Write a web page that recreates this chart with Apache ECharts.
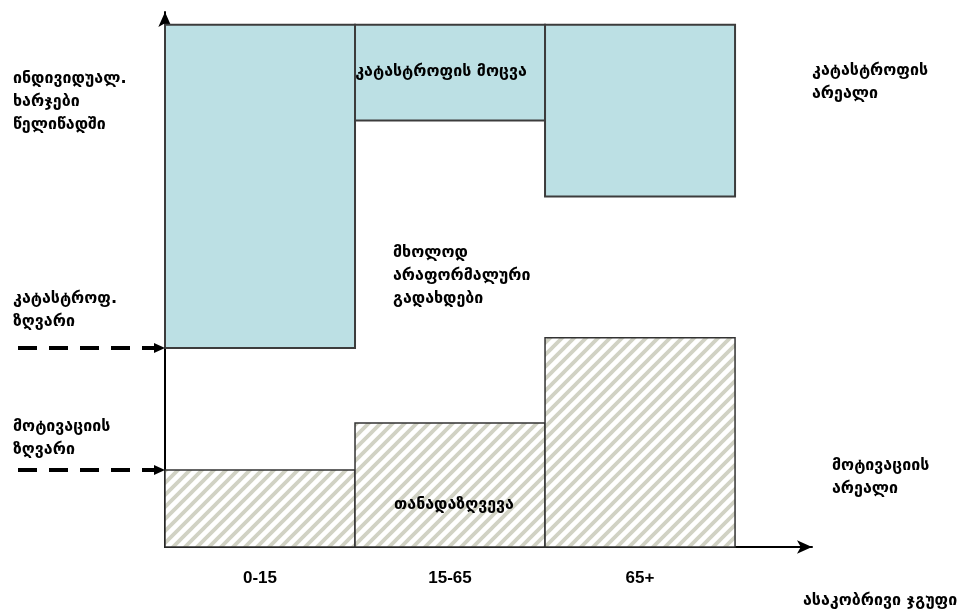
<!DOCTYPE html>
<html><head><meta charset="utf-8">
<script src="https://cdn.jsdelivr.net/npm/echarts@6/dist/echarts.min.js"></script>
<style>html,body{margin:0;padding:0;background:#fff}#c{width:976px;height:609px}</style>
</head><body><div id="c"></div>
<script>
// ---- data ----
const categories = ['0-15', '15-65', '65+'];
const coPaymentTop = [14.4, 23.2, 39.1];          // hatched bars (თანადაზღვევა)
const catastropheBottom = [37.2, 79.7, 65.5];     // teal bars lower edge
const catastropheTop = [97.6, 97.6, 97.6];        // teal bars upper edge
const catastropheThreshold = 37.2;               // კატასტროფ. ზღვარი
const motivationThreshold = 14.4;                // მოტივაციის ზღვარი

// ---- hatch pattern ----
function makeHatch() {
  const s = 12;
  const cv = document.createElement('canvas');
  cv.width = s; cv.height = s;
  const ctx = cv.getContext('2d');
  ctx.fillStyle = '#ffffff';
  ctx.fillRect(0, 0, s, s);
  ctx.strokeStyle = '#d1d2c4';
  ctx.lineWidth = 3.8;
  ctx.beginPath();
  ctx.moveTo(-s, s); ctx.lineTo(s, -s);
  ctx.moveTo(0, s * 2); ctx.lineTo(s * 2, 0);
  ctx.moveTo(0, s); ctx.lineTo(s, 0);
  ctx.stroke();
  return cv;
}
const hatch = { image: makeHatch(), repeat: 'repeat' };

const geoFont = '"DejaVu Sans", "Noto Sans", sans-serif';

function rectItem(fill, stroke, lw) {
  return function (params, api) {
    const i = api.value(0);
    const p0 = api.coord([i, api.value(1)]);
    const p1 = api.coord([i + 1, api.value(2)]);
    return {
      type: 'rect',
      shape: { x: p0[0], y: p1[1], width: p1[0] - p0[0], height: p0[1] - p1[1] },
      style: { fill: fill, stroke: stroke, lineWidth: lw }
    };
  };
}

const chart = echarts.init(document.getElementById('c'), null, { renderer: 'canvas' });
const option = {
  animation: false,
  backgroundColor: '#ffffff',
  grid: { left: 165, right: 164, top: 12, bottom: 62 },
  xAxis: {
    type: 'value', min: 0, max: 3.405, interval: 0.5,
    axisLine: { show: true, symbol: ['none', 'arrow'], symbolSize: [10, 15], lineStyle: { color: '#000', width: 2 } },
    axisTick: { show: false },
    splitLine: { show: false },
    showMaxLabel: false,
    axisLabel: {
      margin: 23,
      color: '#000', fontFamily: '"Liberation Sans", Arial, sans-serif', fontWeight: 'bold', fontSize: 17,
      formatter: function (v) {
        const k = v - 0.5;
        const r = Math.round(k);
        if (Math.abs(k - r) < 1e-6 && categories[r] !== undefined) return categories[r];
        return '';
      }
    }
  },
  yAxis: {
    type: 'value', min: 0, max: 100,
    axisLine: { show: true, symbol: ['none', 'arrow'], symbolSize: [10, 15], lineStyle: { color: '#000', width: 2 } },
    axisTick: { show: false },
    axisLabel: { show: false },
    splitLine: { show: false }
  },
  series: [
    {
      type: 'custom', name: 'თანადაზღვევა',
      renderItem: rectItem(hatch, '#333333', 1.5),
      encode: { x: 0, y: [1, 2] },
      data: categories.map((c, i) => [i, 0, coPaymentTop[i]]),
      z: 2
    },
    {
      type: 'custom', name: 'კატასტროფის მოცვა',
      renderItem: rectItem('#bce0e4', '#3c3c3c', 2),
      encode: { x: 0, y: [1, 2] },
      data: categories.map((c, i) => [i, catastropheBottom[i], catastropheTop[i]]),
      z: 2
    }
  ]
};
chart.setOption(option);

function txt(x, y, s, align) {
  return {
    type: 'text', x: x, y: y, z: 10,
    style: { text: s, fill: '#000', font: 'bold 16px ' + geoFont, lineHeight: 23, align: align || 'left', verticalAlign: 'top' }
  };
}
function dashedArrow(value) {
  const y = chart.convertToPixel({ yAxisIndex: 0 }, value);
  const x0 = chart.convertToPixel({ xAxisIndex: 0 }, 0);
  return [
    { type: 'line', z: 10, shape: { x1: 18, y1: y, x2: x0 - 9, y2: y },
      style: { stroke: '#000', lineWidth: 4, lineDash: [19, 12] } },
    { type: 'polygon', z: 10, shape: { points: [[x0 - 11, y - 5], [x0, y], [x0 - 11, y + 5]] },
      style: { fill: '#000' } }
  ];
}
chart.setOption({
  graphic: [
    txt(13, 67, 'ინდივიდუალ.\nხარჯები\nწელიწადში'),
    txt(13, 287, 'კატასტროფ.\nზღვარი'),
    txt(13, 415, 'მოტივაციის\nზღვარი'),
    txt(441, 60, 'კატასტროფის მოცვა', 'center'),
    txt(812, 59, 'კატასტროფის\nარეალი'),
    txt(393, 241, 'მხოლოდ\nარაფორმალური\nგადახდები'),
    txt(454, 493, 'თანადაზღვევა', 'center'),
    txt(832, 454, 'მოტივაციის\nარეალი'),
    txt(803, 589, 'ასაკობრივი ჯგუფი')
  ].concat(dashedArrow(catastropheThreshold), dashedArrow(motivationThreshold))
});
</script>
</body></html>
